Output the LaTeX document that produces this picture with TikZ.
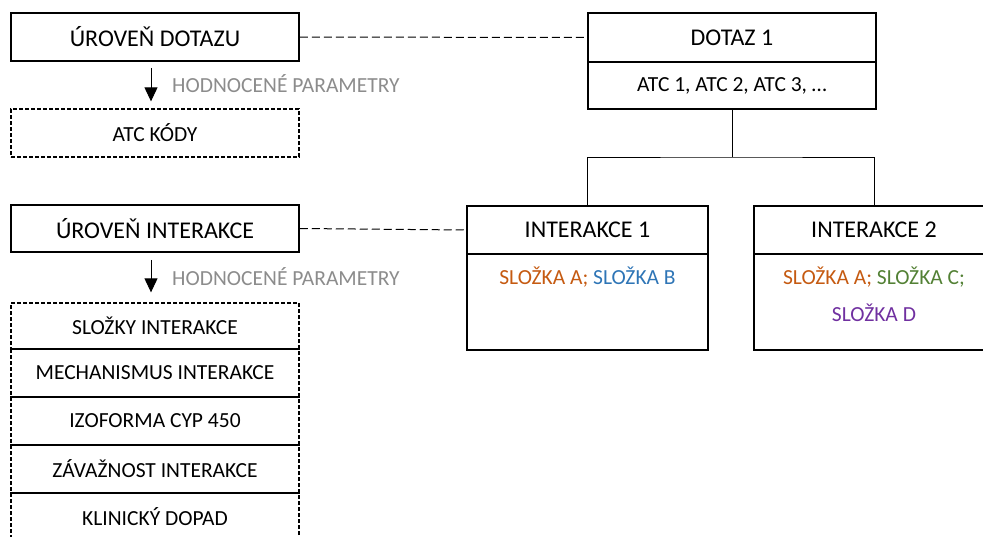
\documentclass[tikz,border=0pt]{standalone}
\usepackage{fontspec}
\setmainfont{Carlito}
\usetikzlibrary{arrows.meta}
\definecolor{corange}{HTML}{C55A11}
\definecolor{cblue}{HTML}{2E75B6}
\definecolor{cgreen}{HTML}{538135}
\definecolor{cpurple}{HTML}{7030A0}
\definecolor{cgray}{HTML}{8C8C8C}
\tikzset{
  box/.style={draw=black, line width=1.5pt, rectangle, inner sep=0pt, font=\fontsize{24}{28}\selectfont},
  dbox/.style={draw=black, line width=1.3pt, dash pattern=on 4pt off 2pt, rectangle, inner sep=0pt, minimum width=288pt, minimum height=48pt, font=\fontsize{21.5}{25}\selectfont},
  link/.style={line width=1pt, dash pattern=on 8pt off 4pt},
  tree/.style={line width=0.9pt},
  param/.style={-{Triangle[width=13pt,length=14pt]}, line width=1pt},
  plabel/.style={text=cgray, anchor=west, inner sep=0pt, font=\fontsize{21.5}{25}\selectfont},
  body/.style={inner sep=0pt, anchor=base, font=\fontsize{21.5}{25}\selectfont}
}
\begin{document}
\begin{tikzpicture}[x=1pt,y=-1pt]
\useasboundingbox (0,0) rectangle (983,536);
\begin{scope}
\clip (0,0) rectangle (983,536);
% left column
\node[box, minimum width=288pt, minimum height=48pt] (udot) at (155,37) {ÚROVEŇ DOTAZU};
\node[dbox] (atck) at (155,133) {ATC KÓDY};
\node[box, minimum width=288pt, minimum height=47pt] (uint) at (155,228.5) {ÚROVEŇ INTERAKCE};
\node[dbox, minimum height=46pt] (c1) at (155,326) {SLOŽKY INTERAKCE};
\node[dbox] (c2) at (155,373) {MECHANISMUS INTERAKCE};
\node[dbox] (c3) at (155,421) {IZOFORMA CYP 450};
\node[dbox] (c4) at (155,469) {ZÁVAŽNOST INTERAKCE};
\node[dbox] (c5) at (155,517) {KLINICKÝ DOPAD};
% arrows with labels
\draw[param] ([xshift=-4pt,yshift=-6pt]udot.south) -- ([xshift=-4pt,yshift=7pt]atck.north);
\node[plabel] (p1) at (172,84) {HODNOCENÉ PARAMETRY};
\draw[param] ([xshift=-4pt,yshift=-7pt]uint.south) -- ([xshift=-4pt,yshift=10pt]c1.north);
\node[plabel] (p2) at (172,277) {HODNOCENÉ PARAMETRY};
% right tree
\node[box, minimum width=288pt, minimum height=49pt] (dotaz) at (732,37.5) {DOTAZ 1};
\node[box, minimum width=288pt, minimum height=47pt, font=\fontsize{21.5}{25}\selectfont] (atc) at (732,85.5) {ATC 1, ATC 2, ATC 3, …};
\node[box, minimum width=241pt, minimum height=48pt] (i1h) at (587.5,230) {INTERAKCE 1};
\node[box, minimum width=241pt, minimum height=96pt] (i1b) at (587.5,302) {};
\node[box, minimum width=240pt, minimum height=48pt] (i2h) at (874,230) {INTERAKCE 2};
\node[box, minimum width=240pt, minimum height=96pt] (i2b) at (874,302) {};
\node[body] (t1) at ([yshift=-31pt]i1b.north) {\textcolor{corange}{SLOŽKA A;} \textcolor{cblue}{SLOŽKA B}};
\node[body] (t2) at ([yshift=-31pt]i2b.north) {\textcolor{corange}{SLOŽKA A;} \textcolor{cgreen}{SLOŽKA C;}};
\node[body, text=cpurple] (t3) at ([yshift=-68pt]i2b.north) {SLOŽKA D};
\coordinate (junc) at (732,157);
\draw[tree] (atc.south) -- (junc);
\draw[tree] (i1h.north) |- (junc) -| (i2h.north);
% dashed links
\draw[link] (udot.east) -- (dotaz.west);
\draw[link] (uint.east) -- (i1h.west);
\end{scope}
\end{tikzpicture}
\end{document}
